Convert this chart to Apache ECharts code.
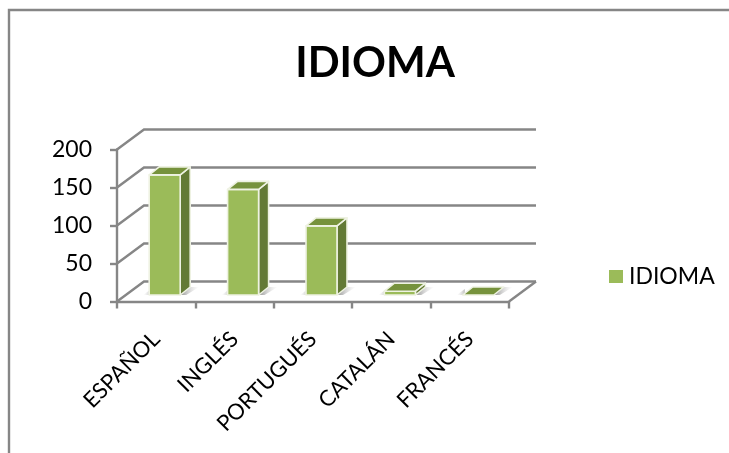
<!DOCTYPE html>
<html>
<head>
<meta charset="utf-8">
<script src="https://cdn.jsdelivr.net/npm/echarts@6/dist/echarts.min.js"></script>
<style>
  html, body { margin: 0; padding: 0; background: #fff; }
  #chart { width: 729px; height: 453px; }
</style>
</head>
<body>
<div id="chart"></div>
<script>
const categories = ['ESPAÑOL', 'INGLÉS', 'PORTUGUÉS', 'CATALÁN', 'FRANCÉS']
const seriesValues = [158, 139, 91, 5, 0]
const seriesName = 'IDIOMA'
const yTicks = [0, 50, 100, 150, 200]

const FONT = 'Lato, "Open Sans", sans-serif'
const GRID_COLOR = '#868686'
// fake 3d: depth of the walls, and of a bar
const WALL_DX = 27
const WALL_DY = -20
const BAR_DX = 10
const BAR_DY = -8
const BAR_SHIFT_X = 8.5
const BAR_SHIFT_Y = -6.5
const BAR_WIDTH = 31

const chart = echarts.init(document.getElementById('chart'))

// back wall lines + left/floor wall edges
function renderWall(params, api) {
  const value = api.value(0)
  const p0 = api.coord([0, value])
  const xEnd = api.coord([categories.length - 1, value])[0] + api.size([1, 0])[0] / 2
  const xStart = p0[0] - api.size([1, 0])[0] / 2
  const children = [{
    type: 'polyline',
    shape: { points: [
      [xStart, p0[1]],
      [xStart + WALL_DX, p0[1] + WALL_DY],
      [xEnd + WALL_DX, p0[1] + WALL_DY]
    ] },
    style: { stroke: GRID_COLOR, lineWidth: 2.4, fill: 'none' }
  }]
  if (value === 0) {
    children.push({
      type: 'line',
      shape: { x1: xEnd, y1: p0[1], x2: xEnd + WALL_DX, y2: p0[1] + WALL_DY },
      style: { stroke: GRID_COLOR, lineWidth: 2.4 }
    })
  }
  return { type: 'group', children }
}

function renderBar(params, api) {
  const idx = api.value(0)
  const val = api.value(1)
  const top = api.coord([idx, val])
  const base = api.coord([idx, 0])
  const x0 = top[0] - BAR_WIDTH / 2 + BAR_SHIFT_X
  const x1 = x0 + BAR_WIDTH
  const yt = top[1] + BAR_SHIFT_Y
  const yb = base[1] + BAR_SHIFT_Y
  const white = { stroke: '#eef2e2', lineWidth: 1.6, lineJoin: 'round' }
  const shadowRight = new echarts.graphic.LinearGradient(0, 0, 1, 0, [
    { offset: 0, color: 'rgba(110,110,110,0.75)' },
    { offset: 1, color: 'rgba(200,200,200,0)' }
  ])
  const shadowLeft = new echarts.graphic.LinearGradient(1, 0, 0, 0, [
    { offset: 0, color: 'rgba(130,130,130,0.5)' },
    { offset: 1, color: 'rgba(200,200,200,0)' }
  ])
  const children = [
    // shadow on the floor
    {
      type: 'polygon',
      shape: { points: [[x1, yb], [x1 + BAR_DX, yb + BAR_DY], [x1 + BAR_DX + 9, yb + BAR_DY], [x1 + 6, yb]] },
      style: { fill: shadowRight }
    },
    {
      type: 'polygon',
      shape: { points: [[x0 - 6, yb], [x0 + 2, yb - 6], [x0 + 2, yb]] },
      style: { fill: shadowLeft }
    }
  ]
  if (val > 0) {
    children.push({
      type: 'polygon',
      shape: { points: [[x1, yt], [x1 + BAR_DX, yt + BAR_DY], [x1 + BAR_DX, yb + BAR_DY], [x1, yb]] },
      style: Object.assign({ fill: '#637a35' }, white)
    })
    children.push({
      type: 'rect',
      shape: { x: x0, y: yt, width: BAR_WIDTH, height: yb - yt },
      style: Object.assign({ fill: '#9bbb59' }, white)
    })
  }
  children.push({
    type: 'polygon',
    shape: { points: [[x0, yt], [x0 + BAR_DX, yt + BAR_DY], [x1 + BAR_DX, yt + BAR_DY], [x1, yt]] },
    style: Object.assign({ fill: '#76923c' }, white)
  })
  return { type: 'group', children }
}

chart.setOption({
  animation: false,
  backgroundColor: '#fff',
  title: {
    text: seriesName,
    left: 370,
    top: 37,
    textAlign: 'center',
    textStyle: { fontFamily: FONT, fontSize: 42, fontWeight: 'bold', color: '#000' }
  },
  legend: {
    data: [seriesName],
    left: 604,
    top: 260,
    icon: 'rect',
    itemWidth: 14,
    itemHeight: 13,
    itemGap: 0,
    textStyle: { fontFamily: FONT, fontSize: 23, color: '#000', padding: [0, 0, 0, 1] }
  },
  graphic: [{
    type: 'polyline',
    silent: true,
    shape: { points: [[9, 453], [9, 10], [729, 10]] },
    style: { stroke: '#868686', lineWidth: 2.4, fill: 'none' }
  }],
  grid: { left: 117, top: 149.5, width: 392, height: 152 },
  xAxis: {
    type: 'category',
    data: categories,
    axisTick: { show: true, length: 7, alignWithLabel: false, lineStyle: { color: GRID_COLOR, width: 2.4 } },
    axisLine: { lineStyle: { color: GRID_COLOR, width: 2.4 } },
    axisLabel: { rotate: 45, interval: 0, margin: 34, fontFamily: FONT, fontSize: 22, color: '#000' },
    splitLine: { show: false }
  },
  yAxis: {
    type: 'value',
    min: 0,
    max: 200,
    interval: 50,
    axisLine: { show: true, lineStyle: { color: GRID_COLOR, width: 2.4 } },
    axisTick: { show: true, length: 7, lineStyle: { color: GRID_COLOR, width: 2.4 } },
    axisLabel: { margin: 25, fontFamily: FONT, fontSize: 23, color: '#000', padding: [3, 0, 0, 0] },
    splitLine: { show: false }
  },
  series: [
    {
      type: 'custom',
      name: 'walls',
      silent: true,
      z: 1,
      clip: false,
      renderItem: renderWall,
      encode: { x: -1, y: 0 },
      data: yTicks.map(v => [v])
    },
    {
      type: 'custom',
      name: seriesName,
      z: 2,
      clip: false,
      itemStyle: { color: '#9bbb59' },
      renderItem: renderBar,
      encode: { x: 0, y: 1 },
      data: seriesValues.map((v, i) => [i, v])
    }
  ]
})
</script>
</body>
</html>
